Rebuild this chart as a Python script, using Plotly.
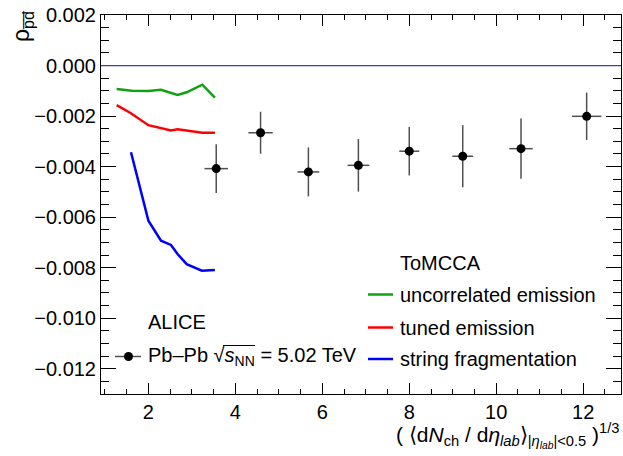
import plotly.graph_objects as go

# ALICE Pb-Pb data: x = (<dNch/deta>)^(1/3), rho_{pbar dbar}
data_x = [3.56, 4.58, 5.68, 6.83, 8.00, 9.23, 10.57, 12.08]
data_y = [-0.00408, -0.00266, -0.00421, -0.00395, -0.00339, -0.00359, -0.00329, -0.00201]
data_ex = [0.27, 0.28, 0.25, 0.25, 0.23, 0.24, 0.27, 0.34]
data_ey = [0.00096, 0.00083, 0.00097, 0.00104, 0.00096, 0.00123, 0.00119, 0.00094]

# ToMCCA model curves
uncorr_x = [1.27, 1.62, 2.00, 2.29, 2.67, 2.88, 3.24, 3.53]
uncorr_y = [-0.00093, -0.00100, -0.00101, -0.00096, -0.00116, -0.00106, -0.00076, -0.00127]

tuned_x = [1.27, 1.58, 2.00, 2.27, 2.52, 2.67, 2.88, 3.24, 3.53]
tuned_y = [-0.00157, -0.00187, -0.00236, -0.00246, -0.00257, -0.00252, -0.00258, -0.00266, -0.00266]

string_x = [1.60, 2.00, 2.29, 2.52, 2.67, 2.88, 3.23, 3.53]
string_y = [-0.00343, -0.00614, -0.00693, -0.00710, -0.00746, -0.00786, -0.00812, -0.00809]

x_tick_vals = [2, 4, 6, 8, 10, 12]
y_tick_vals = [0.002, 0.0, -0.002, -0.004, -0.006, -0.008, -0.010, -0.012]
y_tick_text = ["0.002", "0.000", "\u22120.002", "\u22120.004", "\u22120.006",
               "\u22120.008", "\u22120.010", "\u22120.012"]

GREEN = "#11a011"
RED = "#ff0000"
BLUE = "#0000ff"
FONT = "Liberation Sans, Arial, sans-serif"

W, H = 623, 456
L, R, T, B = 101, 2, 15, 62
PW, PH = W - L - R, H - T - B


def px(x):
    return (x - L) / PW


def py(y):
    return (H - B - y) / PH


fig = go.Figure()

fig.add_trace(go.Scatter(x=uncorr_x, y=uncorr_y, mode="lines",
                         line=dict(color=GREEN, width=2.5), showlegend=False))
fig.add_trace(go.Scatter(x=tuned_x, y=tuned_y, mode="lines",
                         line=dict(color=RED, width=2.5), showlegend=False))
fig.add_trace(go.Scatter(x=string_x, y=string_y, mode="lines",
                         line=dict(color=BLUE, width=2.5), showlegend=False))

fig.add_trace(go.Scatter(
    x=data_x, y=data_y, mode="markers",
    marker=dict(color="black", size=9, symbol="circle"),
    error_x=dict(type="data", array=data_ex, width=0, color="#505050", thickness=1.5),
    error_y=dict(type="data", array=data_ey, width=0, color="#505050", thickness=1.5),
    showlegend=False))

shapes = [
    # reference line at zero
    dict(type="line", xref="paper", yref="y", x0=0, x1=1, y0=0, y1=0,
         line=dict(color="#3c3cc8", width=1.2)),
    # legend symbols
    dict(type="line", xref="paper", yref="paper", x0=px(115), x1=px(141),
         y0=py(356.5), y1=py(356.5), line=dict(color="#505050", width=1.5)),
    dict(type="line", xref="paper", yref="paper", x0=px(368), x1=px(393),
         y0=py(294.5), y1=py(294.5), line=dict(color=GREEN, width=2.5)),
    dict(type="line", xref="paper", yref="paper", x0=px(368), x1=px(393),
         y0=py(327.5), y1=py(327.5), line=dict(color=RED, width=2.5)),
    dict(type="line", xref="paper", yref="paper", x0=px(368), x1=px(393),
         y0=py(359), y1=py(359), line=dict(color=BLUE, width=2.5)),
    dict(type="circle", xref="paper", yref="paper", x0=px(124), x1=px(133),
         y0=py(361), y1=py(352), fillcolor="black", line=dict(color="black", width=0)),
    # bar of the square-root sign over s_NN
    dict(type="line", xref="paper", yref="paper", x0=px(223), x1=px(255),
         y0=py(345.5), y1=py(345.5), line=dict(color="black", width=1)),
]

def note(text, x, y, xanchor="left", yanchor="middle", size=20, angle=0):
    return dict(text=text, xref="paper", yref="paper", x=px(x), y=py(y),
                xanchor=xanchor, yanchor=yanchor, showarrow=False, textangle=angle,
                font=dict(family=FONT, size=size, color="black"))

annotations = [
    note("ALICE", 146, 322),
    note("Pb\u2013Pb \u221A<i>s</i><sub>NN</sub> = 5.02 TeV", 146, 356.5),
    note("ToMCCA", 398, 263),
    note("uncorrelated emission", 398, 295),
    note("tuned emission", 398, 327.5),
    note("string fragmentation", 398, 358.5),
    note("( \u27E8d<i>N</i><sub>ch</sub> / d<i>\u03B7</i><sub><i>lab</i></sub>\u27E9"
         "<sub>|<i>\u03B7</i><sub><i>lab</i></sub>|&lt;0.5</sub> )<sup>1/3</sup>",
         621, 435, xanchor="right", size=21),
    note("\u03C1<sub>p\u0305d\u0305</sub>", 22, 27, xanchor="center", angle=-90, size=23),
]

fig.update_layout(
    width=W, height=H,
    margin=dict(l=L, r=R, t=T, b=B, pad=0),
    paper_bgcolor="white", plot_bgcolor="white",
    font=dict(family=FONT, size=20, color="black"),
    shapes=shapes, annotations=annotations,
    xaxis=dict(range=[0.91, 12.87], tickvals=x_tick_vals,
               ticks="inside", ticklen=11, tickwidth=1, tickcolor="black",
               showline=True, linecolor="black", linewidth=1, mirror="ticks",
               showgrid=False, zeroline=False,
               minor=dict(dtick=0.5, tick0=0, ticks="inside", ticklen=5,
                          tickcolor="black", showgrid=False),
               tickfont=dict(family=FONT, size=20)),
    yaxis=dict(range=[-0.013, 0.002], tickvals=y_tick_vals, ticktext=y_tick_text,
               ticks="inside", ticklen=15, tickwidth=1, tickcolor="black",
               showline=True, linecolor="black", linewidth=1, mirror="ticks",
               showgrid=False, zeroline=False,
               minor=dict(dtick=0.0005, tick0=0, ticks="inside", ticklen=8,
                          tickcolor="black", showgrid=False),
               tickfont=dict(family=FONT, size=20)),
)

fig.write_html("out.html")
